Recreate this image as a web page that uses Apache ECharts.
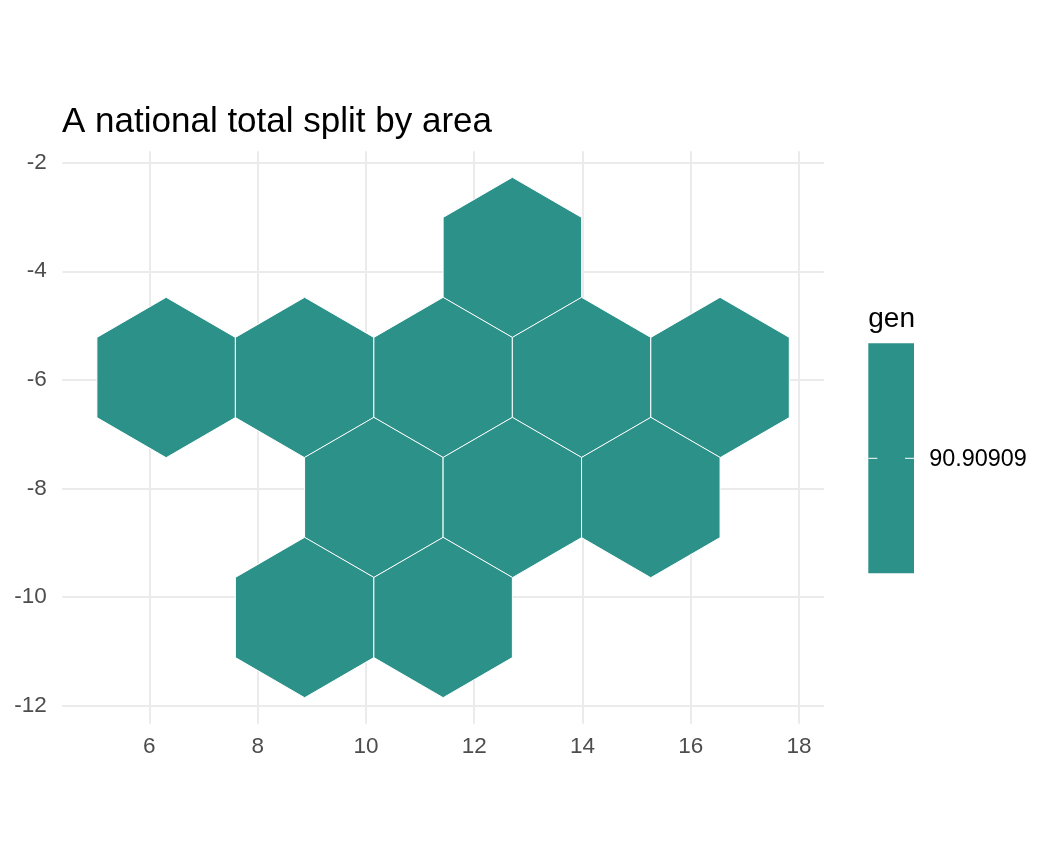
<!DOCTYPE html>
<html>
<head>
<meta charset="utf-8">
<script src="https://cdn.jsdelivr.net/npm/echarts@6/dist/echarts.min.js"></script>
<style>
  html, body { margin: 0; padding: 0; background: #ffffff; }
  #chart { width: 1056px; height: 864px; }
</style>
</head>
<body>
<div id="chart"></div>
<script>
// hex centres (one per area)
var hexX = [12.705, 6.310, 8.868, 11.426, 13.983, 16.541, 10.146, 12.705, 15.262, 8.868, 11.426];
var hexY = [-3.746, -5.956, -5.956, -5.956, -5.956, -5.956, -8.166, -8.166, -8.166, -10.376, -10.376];
var gen = [90.90909, 90.90909, 90.90909, 90.90909, 90.90909, 90.90909, 90.90909, 90.90909, 90.90909, 90.90909, 90.90909];

var xTicks = [6, 8, 10, 12, 14, 16, 18];
var yTicks = [-12, -10, -8, -6, -4, -2];
var legendLabels = ['90.90909'];

// hex size in data units (pointy top)
var HEX_R = 1.477;
var HEX_HW = HEX_R * Math.sqrt(3) / 2;

var fillColor = '#2C9189';
var fontFamily = '"Liberation Sans", Arial, sans-serif';

var chart = echarts.init(document.getElementById('chart'), null, { renderer: 'canvas' });

var data = hexX.map(function (x, i) {
  return [x, hexY[i], gen[i]];
});

function renderHex(params, api) {
  var cx = api.value(0);
  var cy = api.value(1);
  var offs = [
    [HEX_HW, HEX_R / 2], [0, HEX_R], [-HEX_HW, HEX_R / 2],
    [-HEX_HW, -HEX_R / 2], [0, -HEX_R], [HEX_HW, -HEX_R / 2]
  ];
  var pts = offs.map(function (o) {
    return api.coord([cx + o[0], cy + o[1]]);
  });
  return {
    type: 'polygon',
    shape: { points: pts },
    style: { fill: fillColor, stroke: '#ffffff', lineWidth: 1 }
  };
}

var gridLine = { show: true, lineStyle: { color: '#EBEBEB', width: 2 } };

var option = {
  backgroundColor: '#ffffff',
  animation: false,
  title: {
    text: 'A national total split by area',
    left: 62,
    top: 105,
    padding: 0,
    textStyle: {
      fontFamily: fontFamily,
      fontSize: 35,
      fontWeight: 'normal',
      color: '#000000',
      lineHeight: 35
    }
  },
  grid: {
    left: 62.3,
    right: 1056 - 823.9,
    top: 151.3,
    bottom: 864 - 723.7,
    containLabel: false
  },
  xAxis: {
    type: 'value',
    min: 4.392,
    max: 18.459,
    axisLine: { show: false },
    axisTick: { show: false, customValues: xTicks },
    axisLabel: {
      customValues: xTicks,
      margin: 11.5,
      fontFamily: fontFamily,
      fontSize: 22.5,
      color: '#4D4D4D'
    },
    splitLine: gridLine
  },
  yAxis: {
    type: 'value',
    min: -12.332,
    max: -1.790,
    axisLine: { show: false },
    axisTick: { show: false, customValues: yTicks },
    axisLabel: {
      customValues: yTicks,
      margin: 15.5,
      fontFamily: fontFamily,
      fontSize: 22.5,
      color: '#4D4D4D'
    },
    splitLine: gridLine
  },
  series: [{
    type: 'custom',
    renderItem: renderHex,
    encode: { x: 0, y: 1 },
    data: data,
    clip: false
  }],
  graphic: [
    // colourbar legend
    {
      type: 'text',
      left: 868.3,
      top: 305,
      style: {
        text: 'gen',
        font: '28px ' + fontFamily,
        fill: '#000000'
      }
    },
    {
      type: 'rect',
      shape: { x: 868.3, y: 343.3, width: 45.7, height: 230 },
      style: { fill: fillColor }
    },
    {
      type: 'line',
      shape: { x1: 868.3, y1: 458.3, x2: 877.3, y2: 458.3 },
      style: { stroke: '#ffffff', lineWidth: 1 }
    },
    {
      type: 'line',
      shape: { x1: 905, y1: 458.3, x2: 914, y2: 458.3 },
      style: { stroke: '#ffffff', lineWidth: 1 }
    },
    {
      type: 'text',
      x: 929.3,
      y: 459.3,
      style: {
        text: legendLabels[0],
        font: '23.4px ' + fontFamily,
        fill: '#000000',
        verticalAlign: 'middle'
      }
    }
  ]
};

chart.setOption(option);
</script>
</body>
</html>
